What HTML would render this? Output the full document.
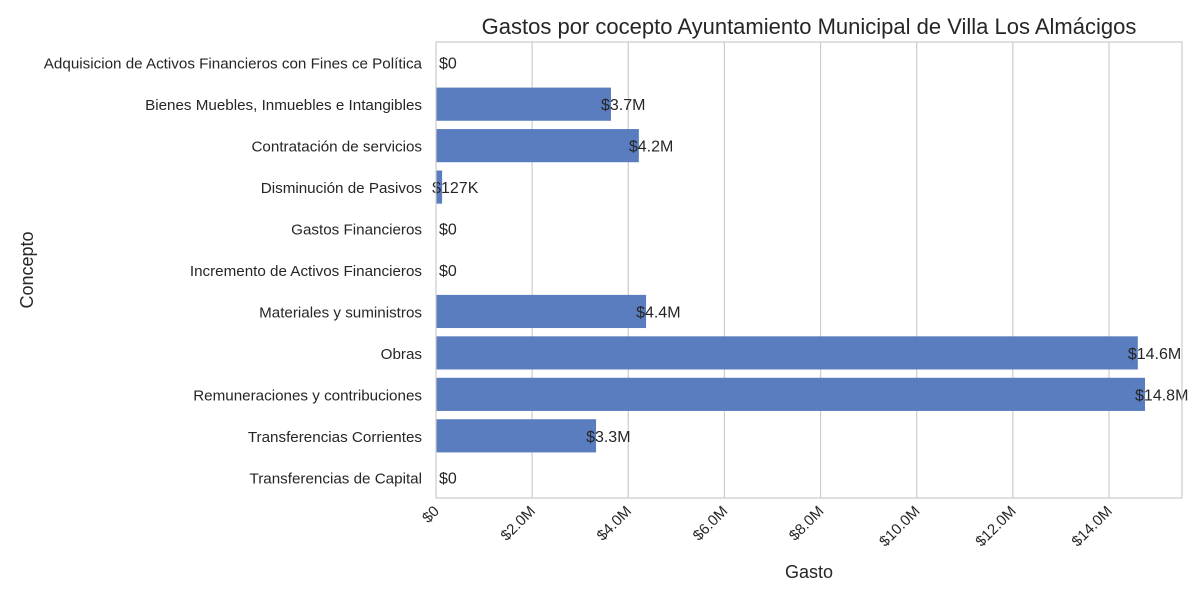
<!DOCTYPE html>
<html><head><meta charset="utf-8"><style>
body{margin:0;background:#fff;}
svg text{font-family:"Liberation Sans",Arial,sans-serif;fill:#262626;}
</style></head><body>
<svg id="chart" width="1200" height="600" xmlns="http://www.w3.org/2000/svg">
<rect x="0" y="0" width="1200" height="600" fill="#fff"/>
<text x="809" y="34" font-size="22" text-anchor="middle">Gastos por cocepto Ayuntamiento Municipal de Villa Los Almácigos</text>
<g id="grid"></g>
<g id="bars"></g>
<g id="labels"></g>
<g id="ylabels"></g>
<g id="xlabels"></g>
<rect x="436" y="42" width="746" height="456" fill="none" stroke="#ccc" stroke-width="1.2"/>
<text x="809" y="578" font-size="18" text-anchor="middle">Gasto</text>
<text x="33" y="270" font-size="18" text-anchor="middle" transform="rotate(-90 33 270)">Concepto</text>
</svg>
<script>
const categories=["Adquisicion de Activos Financieros con Fines ce Política","Bienes Muebles, Inmuebles e Intangibles","Contratación de servicios","Disminución de Pasivos","Gastos Financieros","Incremento de Activos Financieros","Materiales y suministros","Obras","Remuneraciones y contribuciones","Transferencias Corrientes","Transferencias de Capital"];
const values=[0,3640000,4220000,127000,0,0,4370000,14600000,14750000,3330000,0];
const valueLabels=["$0","$3.7M","$4.2M","$127K","$0","$0","$4.4M","$14.6M","$14.8M","$3.3M","$0"];
const ticks=[0,2e6,4e6,6e6,8e6,10e6,12e6,14e6];
const tickLabels=["$0","$2.0M","$4.0M","$6.0M","$8.0M","$10.0M","$12.0M","$14.0M"];
const NS="http://www.w3.org/2000/svg";
const plotX0=436,pxPerUnit=48.07/1e6,plotTop=42,band=456/categories.length;
const xs=v=>plotX0+v*pxPerUnit;
const yc=i=>plotTop+band*(i+0.5);
function mk(t,a,p){const e=document.createElementNS(NS,t);for(const k in a)e.setAttribute(k,a[k]);document.getElementById(p).appendChild(e);return e;}
ticks.forEach((t,i)=>{
  if(i>0){const l=mk('line',{x1:xs(t),x2:xs(t),y1:plotTop,y2:498,stroke:'#ccc','stroke-width':1.2},'grid');
  
  }
  const tx=xs(t)+4,ty=512;
  const e=mk('text',{x:tx,y:ty,'font-size':15,'text-anchor':'end',transform:`rotate(-45 ${tx} ${ty})`},'xlabels');
  e.textContent=tickLabels[i];
  
  
});
categories.forEach((c,i)=>{
  const h=band*0.8;
  if(values[i]>0){const r=mk('rect',{x:plotX0,y:yc(i)-h/2,width:xs(values[i])-plotX0,height:h,fill:'#5a7dc0'},'bars');
  
  }
  const yl=mk('text',{x:422,y:yc(i)+6,'font-size':15.2,'text-anchor':'end'},'ylabels');
  yl.textContent=c;
  
  
  const lx=values[i]>0?xs(values[i])-10:plotX0+3;
  const vl=mk('text',{x:lx,y:yc(i)+6,'font-size':16},'labels');
  vl.textContent=valueLabels[i];
  
  
});
</script>
</body></html>
